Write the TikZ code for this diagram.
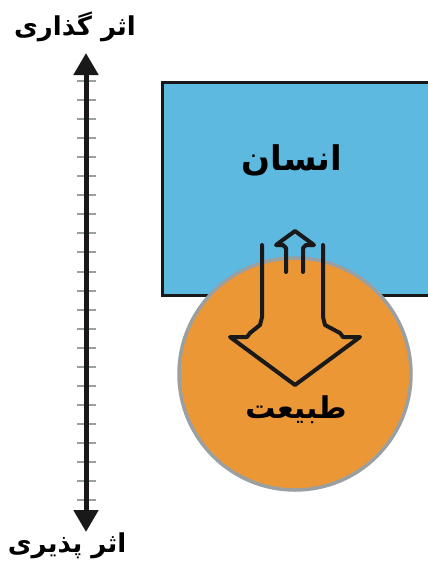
\documentclass[tikz,border=0pt]{standalone}
\usepackage{fontspec}
\usetikzlibrary{arrows.meta}
\TeXXeTstate=1
\newfontfamily\farsi[Script=Arabic]{DejaVu Sans}
\definecolor{sky}{HTML}{5DB9E0}
\definecolor{sand}{HTML}{EC9736}
\definecolor{rim}{HTML}{9AA0A2}

\begin{document}
\begin{tikzpicture}[x=1pt, y=-1pt,
        word/.style = {font=\farsi\bfseries\fontsize{26}{30}\selectfont},
        big/.style = {font=\farsi\bfseries\fontsize{34}{38}\selectfont},
        tick/.style = {rim, line width=2pt},
        outline/.style = {black!90, line width=4pt, line join=round, line cap=round}]
        \useasboundingbox (0,0) rectangle (428,566);

        \fill[sky] (162,82) rectangle (428,295);
        \draw[black!90, line width=3pt] (428,82) -- (162,82) -- (162,295) -- (428,295);

        \node[circle, fill=sand, draw=rim, line width=3.5pt, minimum size=232pt] (earth) at (295,374) {};

        \node[big] (man) at (292,160) {\beginR انسان\endR};
        \node[big, font=\farsi\bfseries\fontsize{30}{34}\selectfont] (nature) at (296,410) {\beginR طبیعت\endR};

        \foreach \i in {0,...,22}{
            \draw[tick] (77,81+19.05*\i) -- (96,81+19.05*\i);
        }

        \coordinate (top) at (86,53);
        \coordinate (bot) at (86,532);
        \draw[black!90, line width=5pt, {Triangle[length=22pt,width=24pt]}-{Triangle[length=22pt,width=24pt]}] (top) -- (bot);

        \node[word] (give) at (75,27) {\beginR اثر گذاری\endR};
        \node[word] (take) at (67,546) {\beginR اثر پذیری\endR};

        \draw[outline] (262,245) -- (262,317) -- (260,325) -- (250,333) -- (247,337) -- (230,337)
            -- (295,385) -- (360,337) -- (343,337) -- (340,333) -- (325,325) -- (323,317) -- (323,245);
        \draw[outline] (286,272) -- (286,248) -- (283,245) -- (276,245) -- (295,231)
            -- (314,245) -- (306,245) -- (303,248) -- (303,272);
    \end{tikzpicture}
\end{document}
